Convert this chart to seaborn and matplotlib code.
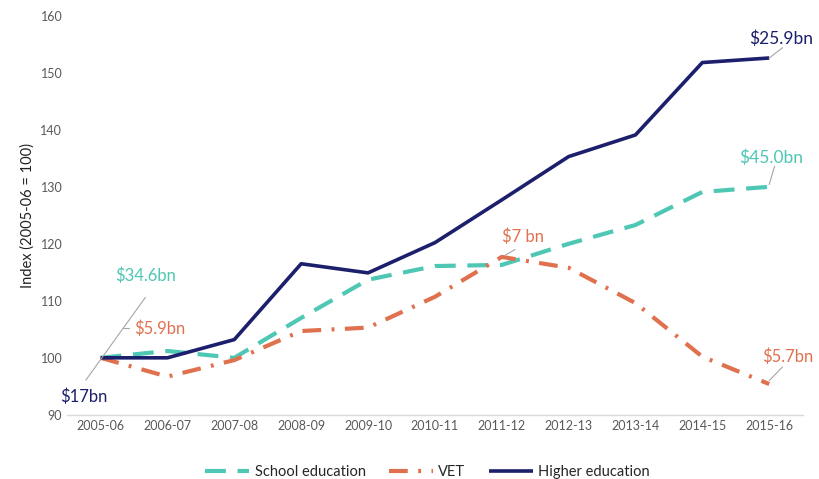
import matplotlib
matplotlib.use("Agg")
import matplotlib.pyplot as plt
import seaborn as sns
import pandas as pd

years = ["2005-06", "2006-07", "2007-08", "2008-09", "2009-10", "2010-11",
         "2011-12", "2012-13", "2013-14", "2014-15", "2015-16"]
school = [100, 101.2, 100.0, 107.0, 113.7, 116.1, 116.3, 120.0, 123.3, 129.1, 130.0]
vet = [100, 96.7, 99.6, 104.7, 105.3, 110.7, 117.7, 115.8, 109.6, 100.2, 95.4]
higher = [100, 100.0, 103.2, 116.5, 114.9, 120.2, 127.7, 135.3, 139.1, 151.8, 152.6]
series_names = ["School education", "VET", "Higher education"]
colors = {"School education": "#4EC7B4", "VET": "#E0714F", "Higher education": "#1C1F6B"}

sns.set_theme(style="white")
plt.rcParams['font.family'] = ['Lato', 'DejaVu Sans']

df = pd.DataFrame({
    "x": list(range(len(years))) * 3,
    "value": school + vet + higher,
    "series": [s for s in series_names for _ in years],
})

fig = plt.figure(figsize=(8.19, 4.79), dpi=100)
ax = fig.add_axes([0.082, 0.134, 0.898, 0.833])

styles = {
    "School education": dict(lw=3.0, dashes=(5.0, 2.8)),
    "VET": dict(lw=3.0, dashes=(4.5, 2.5, 0.7, 2.5)),
    "Higher education": dict(lw=2.6, dashes=None),
}
for name in series_names:
    sub = df[df.series == name]
    st = styles[name]
    sns.lineplot(data=sub, x="x", y="value", ax=ax, color=colors[name],
                 linewidth=st["lw"], label=name)
    l = ax.get_lines()[-1]
    if st["dashes"]:
        l.set_dashes(st["dashes"])
    l.set_solid_capstyle("butt")
    l.set_dash_capstyle("butt")

ax.set_xlim(-0.5, len(years) - 0.5)
ax.set_ylim(90, 160)
ax.set_yticks(range(90, 161, 10))
ax.set_xticks(range(len(years)))
ax.set_xticklabels(years)
ax.tick_params(axis="both", labelsize=9, colors="#595959", length=0)
ax.set_xlabel("")
ax.set_ylabel("Index (2005-06 = 100)", fontsize=10.5, color="#222222")
for s in ["top", "right", "left"]:
    ax.spines[s].set_visible(False)
ax.spines["bottom"].set_color("#D9D9D9")
ax.spines["bottom"].set_linewidth(1)

lead = dict(color="#A6A6A6", lw=0.8)
fs = 12
# start annotations
ax.plot([-0.22, 0.67], [96.1, 110.6], **lead)
ax.plot([0.34, 0.42], [105.3, 105.3], **lead)
ax.text(0.22, 113.5, "$34.6bn", color=colors["School education"], fontsize=fs)
ax.text(0.5, 104.2, "$5.9bn", color=colors["VET"], fontsize=fs)
ax.text(-0.6, 92.3, "$17bn", color=colors["Higher education"], fontsize=fs)
# mid
ax.plot([6.05, 6.2], [118.0, 119.0], **lead)
ax.text(6.0, 120.3, "$7 bn", color=colors["VET"], fontsize=fs)
# end annotations
ax.plot([10.0, 10.2], [96.0, 98.4], **lead)
ax.text(9.9, 99.2, "$5.7bn", color=colors["VET"], fontsize=fs)
ax.plot([10.0, 10.2], [152.6, 154.4], **lead)
ax.text(9.7, 155.0, "$25.9bn", color=colors["Higher education"], fontsize=12.5)
ax.plot([10.0, 10.08], [130.4, 133.6], **lead)
ax.text(9.55, 134.2, "$45.0bn", color=colors["School education"], fontsize=12.5)

ax.legend(loc="upper center", bbox_to_anchor=(0.49, -0.093), ncol=3, frameon=False,
          fontsize=10.5, handlelength=3.0, columnspacing=1.6, handletextpad=0.4)

fig.savefig("out.png", dpi=100)
